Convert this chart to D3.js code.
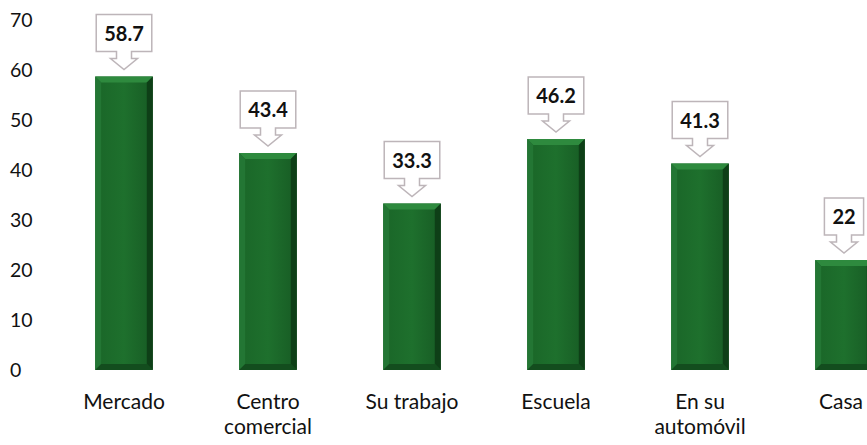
<!DOCTYPE html>
<html>
<head>
<meta charset="utf-8">
<script src="https://cdn.jsdelivr.net/npm/d3@7"></script>
<style>
  body { margin: 0; background: #fff; }
  svg { display: block; }
  text { font-family: Lato, "Open Sans", sans-serif; fill: #111; }
</style>
</head>
<body>
<div id="chart"></div>
<script>
// data
const categories = ["Mercado", "Centro comercial", "Su trabajo", "Escuela", "En su automóvil", "Casa"];
const categoryLines = [["Mercado"], ["Centro", "comercial"], ["Su trabajo"], ["Escuela"], ["En su", "automóvil"], ["Casa"]];
const values = [58.7, 43.4, 33.3, 46.2, 41.3, 22];
const valueLabels = ["58.7", "43.4", "33.3", "46.2", "41.3", "22"];
const yTicks = [0, 10, 20, 30, 40, 50, 60, 70];

const width = 867, height = 445;

const svg = d3.select("#chart").append("svg")
    .attr("width", width)
    .attr("height", height);

const x = d3.scaleBand()
    .domain(categories)
    .range([52, 916])
    .paddingInner(0.6)
    .paddingOuter(0.3);

const y = d3.scaleLinear()
    .domain([0, 70])
    .range([370, 20]);

// y axis: labels only
const yAxis = svg.append("g")
    .attr("transform", "translate(10,0)")
    .call(d3.axisLeft(y).tickValues(yTicks).tickSize(0).tickPadding(0));
yAxis.select(".domain").remove();
yAxis.selectAll("text")
    .attr("text-anchor", "start")
    .attr("dy", "0.35em")
    .style("font-size", "19.5px")
    .style("font-family", "Lato, sans-serif")
    .attr("fill", "#111");

// category labels
const catG = svg.append("g");
categories.forEach((c, i) => {
    const t = catG.append("text")
        .attr("x", x(c) + x.bandwidth() / 2)
        .attr("y", 409)
        .attr("text-anchor", "middle")
        .style("font-size", "21px");
    categoryLines[i].forEach((line, j) => {
        t.append("tspan")
            .attr("x", x(c) + x.bandwidth() / 2 - (i === 5 ? 3 : 0))
            .attr("dy", j === 0 ? 0 : 25)
            .text(line);
    });
});

// bars with bevel
const defs = svg.append("defs");
const grad = defs.append("linearGradient").attr("id", "barGrad")
    .attr("x1", 0).attr("x2", 1).attr("y1", 0).attr("y2", 0);
grad.append("stop").attr("offset", "0%").attr("stop-color", "#1a6628");
grad.append("stop").attr("offset", "50%").attr("stop-color", "#1e702d");
grad.append("stop").attr("offset", "100%").attr("stop-color", "#175b24");

const bev = 6;
const bars = svg.append("g").selectAll("g")
    .data(values)
    .join("g")
    .attr("class", "bar");

bars.each(function(v, i) {
    const g = d3.select(this);
    const x0 = x(categories[i]);
    const w = x.bandwidth();
    const y0 = y(v);
    const y1 = y(0);
    g.append("rect")
        .attr("x", x0).attr("y", y0)
        .attr("width", w).attr("height", y1 - y0)
        .attr("fill", "url(#barGrad)");
    // top bevel
    g.append("polygon")
        .attr("points", [[x0, y0], [x0 + w, y0], [x0 + w - bev, y0 + bev], [x0 + bev, y0 + bev]].join(" "))
        .attr("fill", "#2e8a3e");
    // left bevel
    g.append("polygon")
        .attr("points", [[x0, y0], [x0 + bev, y0 + bev], [x0 + bev, y1 - bev], [x0, y1]].join(" "))
        .attr("fill", "#237634");
    // right bevel
    g.append("polygon")
        .attr("points", [[x0 + w, y0], [x0 + w, y1], [x0 + w - bev, y1 - bev], [x0 + w - bev, y0 + bev]].join(" "))
        .attr("fill", "#0e3f17");
    // bottom bevel
    g.append("polygon")
        .attr("points", [[x0, y1], [x0 + bev, y1 - bev], [x0 + w - bev, y1 - bev], [x0 + w, y1]].join(" "))
        .attr("fill", "#134d1e");
});

// value callouts (box with down arrow)
const callouts = svg.append("g");
values.forEach((v, i) => {
    const cx = x(categories[i]) + x.bandwidth() / 2;
    const tip = y(v) - 7;
    const boxH = 37;
    const headH = 11, stemH = 7;
    const boxBottom = tip - headH - stemH;
    const boxTop = boxBottom - boxH;

    const g = callouts.append("g");
    const path = g.append("path");
    const label = g.append("text")
        .attr("x", cx)
        .attr("y", boxTop + 26)
        .attr("text-anchor", "middle")
        .style("font-size", "20px")
        .style("font-weight", "bold")
        .text(valueLabels[i]);

    const tw = label.node().getComputedTextLength();
    const bw = tw + 16;
    const l = cx - bw / 2, r = cx + bw / 2;
    const sw = 7.5, hw = 13.5;
    const p = [
        [l, boxTop], [r, boxTop], [r, boxBottom],
        [cx + sw, boxBottom], [cx + sw, boxBottom + stemH], [cx + hw, boxBottom + stemH],
        [cx, tip],
        [cx - hw, boxBottom + stemH], [cx - sw, boxBottom + stemH], [cx - sw, boxBottom],
        [l, boxBottom]
    ];
    path.attr("d", "M" + p.join("L") + "Z")
        .attr("fill", "#fff")
        .attr("stroke", "#bdb5b9")
        .attr("stroke-width", 1.5);
});
</script>
</body>
</html>
